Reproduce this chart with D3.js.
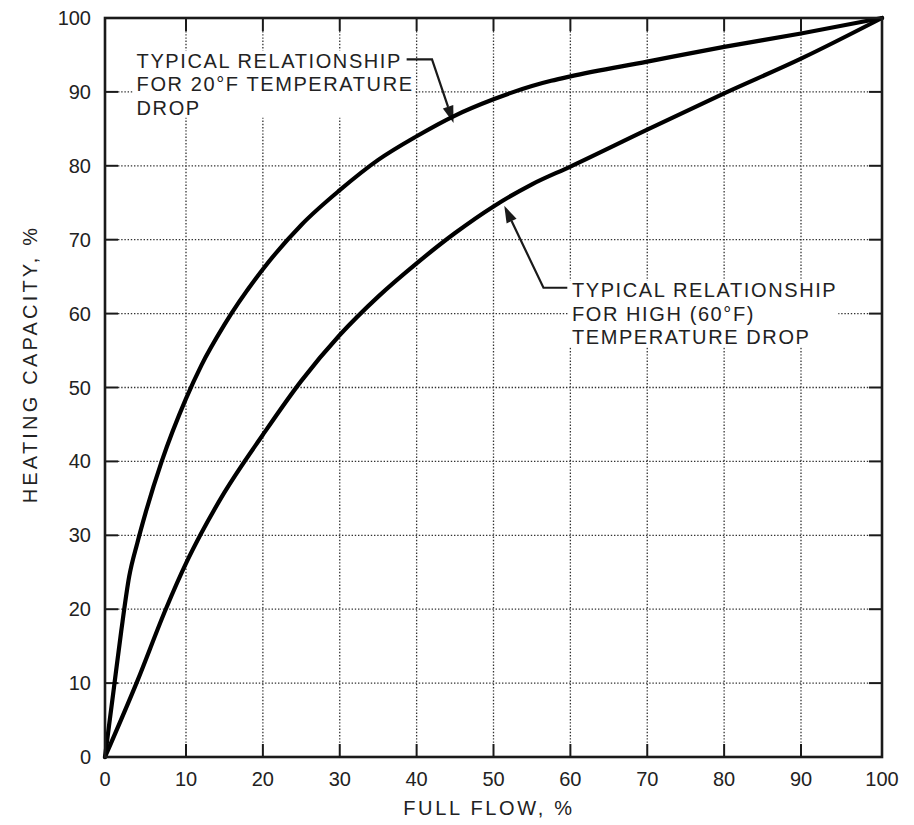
<!DOCTYPE html>
<html>
<head>
<meta charset="utf-8">
<script src="https://cdn.jsdelivr.net/npm/d3@7"></script>
<style>
  html, body { margin: 0; padding: 0; background: #fff; }
  svg { display: block; }
  text { font-family: "Liberation Sans", Arial, Helvetica, sans-serif; fill: #222; }
</style>
</head>
<body>
<svg id="chart" width="914" height="825"></svg>
<script>
// ---- Data ----
const xTicks = [0, 10, 20, 30, 40, 50, 60, 70, 80, 90, 100];
const yTicks = [0, 10, 20, 30, 40, 50, 60, 70, 80, 90, 100];

// Typical relationship for 20°F temperature drop (upper curve)
const flow20 = [0, 1, 2, 3, 4, 5, 7, 10, 12, 15, 20, 25, 30, 35, 40, 45, 50, 55, 57.5, 60, 70, 80, 90, 100];
const cap20  = [0, 8.5, 17, 24.5, 29, 33, 40, 48.5, 53, 58.5, 66, 72, 76.7, 80.8, 84, 86.8, 89, 90.8, 91.5, 92.1, 94.1, 96.1, 97.9, 100];

// Typical relationship for high (60°F) temperature drop (lower curve)
const flow60 = [0, 4, 7.5, 10, 12, 15, 20, 25, 30, 35, 40, 45, 50, 55, 60, 70, 80, 90, 100];
const cap60  = [0, 10.3, 20, 26.2, 30.3, 35.8, 43.6, 50.9, 57.1, 62.3, 66.8, 70.9, 74.5, 77.5, 79.9, 84.9, 89.8, 94.5, 100];

// Annotation texts and leader points (data units)
const note20Lines = ["TYPICAL RELATIONSHIP", "FOR 20°F TEMPERATURE", "DROP"];
const note20Leader = [[38.7, 94.4], [42.0, 94.4], [44.8, 85.8]];
const note20Pos = [3.9, 93.3];

const note60Lines = ["TYPICAL RELATIONSHIP", "FOR HIGH (60°F)", "TEMPERATURE DROP"];
const note60Leader = [[59.6, 63.5], [56.5, 63.5], [51.4, 74.6]];
const note60Pos = [60.2, 62.2];

const xTitle = "FULL FLOW, %";
const yTitle = "HEATING CAPACITY, %";

// ---- Layout ----
const svg = d3.select("#chart");
const x = d3.scaleLinear().domain([0, 10, 90, 100]).range([105, 186, 801, 882]);
const y = d3.scaleLinear().domain([0, 100]).range([757, 18]);
const X0 = x(0), X1 = x(100), Y0 = y(0), Y1 = y(100);
const tickLen = 13;
const ink = "#1a1a1a";

// Grid (dotted) for inner ticks
const inner = xTicks.filter(d => d > 0 && d < 100);
const innerY = yTicks.filter(d => d > 0 && d < 100);
const grid = svg.append("g");
grid.selectAll(".gx").data(inner).join("line")
  .attr("x1", d => x(d)).attr("x2", d => x(d))
  .attr("y1", Y1 + tickLen).attr("y2", Y0 - tickLen)
  .attr("stroke", "#333").attr("stroke-width", 1.3).attr("stroke-dasharray", "1.4,1.8");
grid.selectAll(".gy").data(innerY).join("line")
  .attr("y1", d => y(d)).attr("y2", d => y(d))
  .attr("x1", X0 + tickLen).attr("x2", X1 - tickLen)
  .attr("stroke", "#333").attr("stroke-width", 1.3).attr("stroke-dasharray", "1.4,1.8");

// Solid inward ticks on all four sides
const ticks = svg.append("g").attr("stroke", ink).attr("stroke-width", 2);
ticks.selectAll(".tb").data(inner).join("line")
  .attr("x1", d => x(d)).attr("x2", d => x(d)).attr("y1", Y0).attr("y2", Y0 - tickLen);
ticks.selectAll(".tt").data(inner).join("line")
  .attr("x1", d => x(d)).attr("x2", d => x(d)).attr("y1", Y1).attr("y2", Y1 + tickLen);
ticks.selectAll(".tl").data(innerY).join("line")
  .attr("y1", d => y(d)).attr("y2", d => y(d)).attr("x1", X0).attr("x2", X0 + tickLen);
ticks.selectAll(".tr").data(innerY).join("line")
  .attr("y1", d => y(d)).attr("y2", d => y(d)).attr("x1", X1).attr("x2", X1 - tickLen);

// Annotations with white backgrounds
function addNote(lines, pos, leader) {
  const g = svg.append("g");
  const bg = g.append("rect").attr("fill", "#fff");
  const t = g.append("text")
    .attr("x", x(pos[0])).attr("y", y(pos[1]))
    .style("font-size", "20px").style("letter-spacing", "1.6px");
  lines.forEach((s, i) => {
    t.append("tspan").attr("x", x(pos[0])).attr("dy", i === 0 ? 0 : 23.5).text(s);
  });
  const bb = t.node().getBBox();
  bg.attr("x", bb.x - 3).attr("y", bb.y + 1).attr("width", bb.width + 4).attr("height", bb.height - 2);
  // leader line
  const pts = leader.map(p => [x(p[0]), y(p[1])]);
  const tip = pts[pts.length - 1], prev = pts[pts.length - 2];
  const ang = Math.atan2(tip[1] - prev[1], tip[0] - prev[0]);
  const L = 17, W = 5.5;
  const base = [tip[0] - L * Math.cos(ang), tip[1] - L * Math.sin(ang)];
  const linePts = pts.slice(0, -1).concat([base]);
  g.append("path").attr("d", d3.line()(linePts))
    .attr("fill", "none").attr("stroke", ink).attr("stroke-width", 2.2);
  const px = -Math.sin(ang), py = Math.cos(ang);
  g.append("path")
    .attr("d", d3.line()([tip, [base[0] + W * px, base[1] + W * py], [base[0] - W * px, base[1] - W * py]]) + "Z")
    .attr("fill", ink);
}
addNote(note20Lines, note20Pos, note20Leader);
addNote(note60Lines, note60Pos, note60Leader);

// Curves
const line = d3.line().x(d => x(d[0])).y(d => y(d[1])).curve(d3.curveMonotoneX);
const series = [d3.zip(flow20, cap20), d3.zip(flow60, cap60)];
svg.append("g").selectAll("path").data(series).join("path")
  .attr("d", line)
  .attr("fill", "none").attr("stroke", "#000").attr("stroke-width", 4.2)
  .attr("stroke-linejoin", "round").attr("stroke-linecap", "round");

// Frame
svg.append("rect").attr("x", X0).attr("y", Y1).attr("width", X1 - X0).attr("height", Y0 - Y1)
  .attr("fill", "none").attr("stroke", ink).attr("stroke-width", 2.6);

// Tick labels
svg.append("g").selectAll("text").data(xTicks).join("text")
  .attr("x", d => x(d)).attr("y", Y0 + 29)
  .attr("text-anchor", "middle").style("font-size", "20px").text(d => d);
svg.append("g").selectAll("text").data(yTicks).join("text")
  .attr("x", X0 - 14).attr("y", d => y(d) + 7)
  .attr("text-anchor", "end").style("font-size", "20px").text(d => d);

// Axis titles
svg.append("text").attr("x", 489).attr("y", 815).attr("text-anchor", "middle")
  .style("font-size", "20px").style("letter-spacing", "2.7px").text(xTitle);
svg.append("text").attr("transform", "translate(37,364) rotate(-90)").attr("text-anchor", "middle")
  .style("font-size", "20px").style("letter-spacing", "3.2px").text(yTitle);
</script>
</body>
</html>
